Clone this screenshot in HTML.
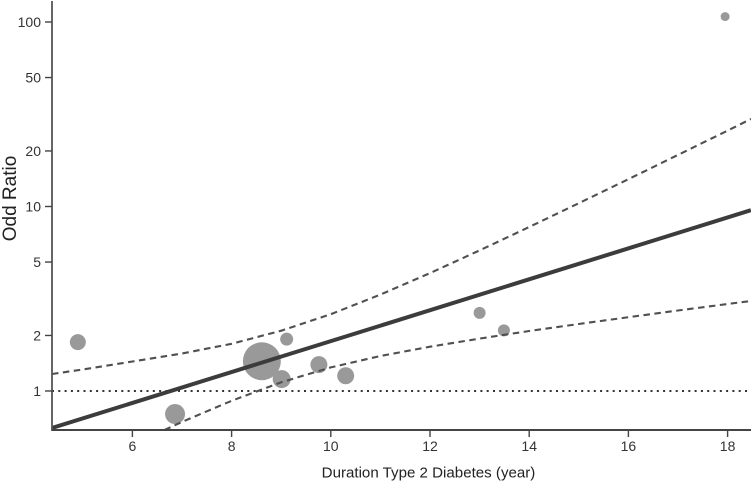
<!DOCTYPE html>
<html>
<head>
<meta charset="utf-8">
<title>Odd Ratio vs Duration Type 2 Diabetes</title>
<style>
html,body{margin:0;padding:0;background:#fff;width:753px;height:484px;overflow:hidden}
svg{display:block}
text{font-family:"Liberation Sans",Arial,sans-serif}
</style>
</head>
<body>
<svg id="chart" width="753" height="484" viewBox="0 0 753 484" xmlns="http://www.w3.org/2000/svg">
<defs><clipPath id="plot-clip"><rect x="52" y="0" width="699" height="430"></rect></clipPath></defs>
</svg>
<script>
const xTicks = [6, 8, 10, 12, 14, 16, 18];
const yTicks = [1, 2, 5, 10, 20, 50, 100];
const studyDuration = [4.90, 6.86, 8.61, 9.01, 9.11, 9.76, 10.30, 13.00, 13.49, 17.95];
const studyOdds = [1.84, 0.75, 1.45, 1.16, 1.91, 1.39, 1.21, 2.65, 2.13, 107];
const studyWeight = [6.4, 10, 36, 8.1, 4.2, 7.2, 7.2, 3.6, 3.6, 2.0];
const fitDuration = [4.38, 18.47];
const fitOdds = [0.63, 9.55];
const upperDuration = [4.38, 5, 6, 7, 8, 9, 10, 11, 12, 13, 14, 15, 16, 17, 18, 18.47];
const upperOdds = [1.236, 1.308, 1.445, 1.597, 1.802, 2.122, 2.608, 3.33, 4.355, 5.78, 7.74, 10.42, 14.06, 19.04, 25.79, 29.8];
const lowerDuration = [6.65, 7, 8, 9, 10, 11, 12, 13, 14, 15, 16, 17, 18, 18.47];
const lowerOdds = [0.615, 0.68, 0.885, 1.115, 1.342, 1.548, 1.739, 1.923, 2.115, 2.307, 2.512, 2.73, 2.962, 3.074];
const referenceOdds = 1;

const svg = document.getElementById('chart');
const NS = 'http://www.w3.org/2000/svg';
const xScale = v => 132.4 + (v - 6) * 49.6;
const yScale = v => 391 - Math.log10(v) * 184.5;
const rScale = w => Math.sqrt(w * 10);
const plotLeft = 52, plotRight = 751, plotBottom = 430, plotTop = 1;

function make(tag, attrs, parent) {
  const el = document.createElementNS(NS, tag);
  for (const k in attrs) el.setAttribute(k, attrs[k]);
  (parent || svg).appendChild(el);
  return el;
}
function linePoints(xs, ys) {
  return xs.map((x, i) => xScale(x).toFixed(1) + ',' + yScale(ys[i]).toFixed(1)).join(' ');
}

/* study bubbles */
const bubbles = make('g', {'clip-path': 'url(#plot-clip)'});


studyDuration.forEach((x, i) => {
  const c = make('circle', {cx: xScale(x), cy: yScale(studyOdds[i]), r: rScale(studyWeight[i]), fill: '#999999'}, bubbles);
  
  
});

/* reference line */
const refLine = make('line', {x1: plotLeft, x2: plotRight, y1: yScale(referenceOdds), y2: yScale(referenceOdds), stroke: '#333', 'stroke-width': 2, 'stroke-dasharray': '2 4.3'});



/* confidence bands */
const upper = make('polyline', {points: linePoints(upperDuration, upperOdds), fill: 'none', stroke: '#505050', 'stroke-width': 2.1, 'stroke-dasharray': '6.5 4.5', 'stroke-linejoin': 'round', 'clip-path': 'url(#plot-clip)'});


const lower = make('polyline', {points: linePoints(lowerDuration, lowerOdds), fill: 'none', stroke: '#505050', 'stroke-width': 2.1, 'stroke-dasharray': '6.5 4.5', 'stroke-linejoin': 'round', 'clip-path': 'url(#plot-clip)'});



/* regression line */
const fit = make('polyline', {points: linePoints(fitDuration, fitOdds), fill: 'none', stroke: '#3c3c3c', 'stroke-width': 4, 'clip-path': 'url(#plot-clip)'});



/* axes */
const yAxis = make('line', {x1: plotLeft, x2: plotLeft, y1: plotTop, y2: plotBottom + 1, stroke: '#555', 'stroke-width': 1.8});


const xAxis = make('line', {x1: plotLeft, x2: plotRight, y1: plotBottom, y2: plotBottom, stroke: '#444', 'stroke-width': 2});



xTicks.forEach(t => {
  const px = xScale(t);
  const tick = make('line', {x1: px, x2: px, y1: plotBottom, y2: plotBottom + 7, stroke: '#444', 'stroke-width': 1.4});
  
  
  const label = make('text', {x: px, y: 451, 'text-anchor': 'middle', 'font-size': 14, fill: '#333'});
  label.textContent = t;
  
  
});
yTicks.forEach(t => {
  const py = yScale(t);
  const tick = make('line', {x1: 45, x2: plotLeft, y1: py, y2: py, stroke: '#444', 'stroke-width': 1.4});
  
  
  const label = make('text', {x: 41, y: py + 5, 'text-anchor': 'end', 'font-size': 14, fill: '#333'});
  label.textContent = t;
  
  
});

/* titles */
const xTitle = make('text', {x: 428.5, y: 477.5, 'text-anchor': 'middle', 'font-size': 15.1, fill: '#222'});
xTitle.textContent = 'Duration Type 2 Diabetes (year)';


const yTitle = make('text', {x: 16, y: 198.5, 'text-anchor': 'middle', 'font-size': 19, fill: '#222', transform: 'rotate(-90 16 198.5)'});
yTitle.textContent = 'Odd Ratio';


</script>
</body>
</html>
